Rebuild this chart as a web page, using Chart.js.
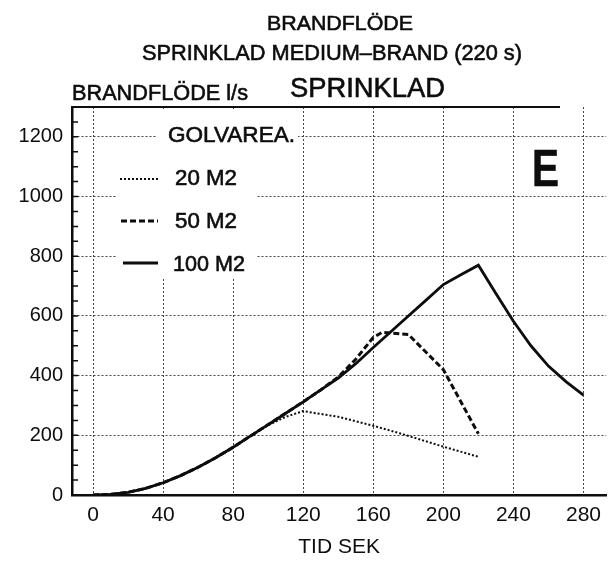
<!DOCTYPE html>
<html>
<head>
<meta charset="utf-8">
<title>Brandflöde sprinklad</title>
<script src="https://cdn.jsdelivr.net/npm/chart.js@4.4.1/dist/chart.umd.min.js"></script>
<style>
  html, body { margin: 0; padding: 0; background: #fff; }
  #wrap { position: relative; width: 609px; height: 561px; }
</style>
</head>
<body>
<div id="wrap"><canvas id="chart"></canvas></div>
<script>
const FONT = "'Liberation Sans', Arial, Helvetica, sans-serif";
const INK = "#0d0d0d";

// tid (s) och brandflöde (l/s) för varje golvarea
const tid20 = [0, 10, 20, 30, 40, 50, 60, 70, 80, 90, 100, 110, 120, 140, 160, 175, 200, 220];
const flode20 = [0, 2, 9, 22, 41, 65, 93, 125, 160, 198, 234, 262, 281, 262, 232, 207, 162, 128];

const tid50 = [0, 10, 20, 30, 40, 50, 60, 70, 80, 90, 100, 110, 120, 130, 140, 150, 160, 165, 180, 200, 220];
const flode50 = [0, 2, 9, 22, 41, 65, 93, 125, 160, 198, 236, 274, 312, 352, 395, 455, 528, 545, 538, 420, 205];

const tid100 = [0, 10, 20, 30, 40, 50, 60, 70, 80, 90, 100, 110, 120, 130, 140, 150, 160, 170, 180, 190, 200, 210, 220, 230, 240, 250, 260, 270, 280];
const flode100 = [0, 2, 9, 22, 41, 65, 93, 125, 160, 198, 236, 274, 312, 352, 392, 440, 494, 547, 600, 652, 705, 738, 770, 675, 582, 500, 432, 380, 335];

const serieNamn = ["20 M2", "50 M2", "100 M2"];
const xTickSteg = 40;
const yTickSteg = 200;
const yMinorSteg = 50;

const toPoints = (xs, ys) => xs.map((x, i) => ({ x: x, y: ys[i] }));

// text squeezed/stretched to the width it has in the scan
function fitText(ctx, text, x, y, size, width, align, weight) {
  ctx.save();
  ctx.font = (weight || "normal") + " " + size + "px " + FONT;
  const w = ctx.measureText(text).width;
  const sx = width ? width / w : 1;
  const left = align === "center" ? x - (w * sx) / 2 : x;
  ctx.translate(left, y);
  ctx.scale(sx, 1);
  ctx.textAlign = "left";
  ctx.textBaseline = "alphabetic";
  ctx.fillStyle = INK;
  ctx.strokeStyle = INK;
  ctx.lineWidth = 0.6;
  ctx.fillText(text, 0, 0);
  ctx.strokeText(text, 0, 0);
  ctx.restore();
}

const decorPlugin = {
  id: "decor",
  beforeDatasetsDraw(chart) {
    // white patch behind the legend, hides grid lines there
    const ctx = chart.ctx;
    ctx.save();
    ctx.fillStyle = "#fff";
    ctx.fillRect(157, 109, 141, 41);
    ctx.fillRect(117, 150, 140, 127);
    ctx.restore();
  },
  afterDraw(chart) {
    const ctx = chart.ctx;
    const area = chart.chartArea;
    const yScale = chart.scales.y;

    // headings
    fitText(ctx, "BRANDFLÖDE", 340, 30, 21, 146, "center");
    fitText(ctx, "SPRINKLAD MEDIUM–BRAND (220 s)", 332, 60, 22, 380, "center");
    fitText(ctx, "BRANDFLÖDE l/s", 72, 100, 22, 176, "left");
    fitText(ctx, "SPRINKLAD", 290, 97, 27, 155, "left");
    fitText(ctx, "E", 532, 186, 51, 27, "left", "bold");

    // line over the plot
    ctx.save();
    ctx.strokeStyle = INK;
    ctx.lineWidth = 2;
    ctx.beginPath();
    ctx.moveTo(area.left, area.top);
    ctx.lineTo(560, area.top);
    ctx.stroke();

    // small inward ticks every 50 l/s
    ctx.lineWidth = 1.5;
    ctx.beginPath();
    for (let v = yScale.min; v <= yScale.max; v += yMinorSteg) {
      const py = yScale.getPixelForValue(v);
      ctx.moveTo(area.left, py);
      ctx.lineTo(area.left + 6, py);
    }
    ctx.stroke();
    ctx.restore();

    // legend
    fitText(ctx, "GOLVAREA.", 168, 142, 22, 127, "left");
    const rows = [
      { line: [120, 158, 179], text: [175, 185, 62] },
      { line: [121, 158, 221], text: [175, 228, 62] },
      { line: [123, 158, 263], text: [173, 271, 72] }
    ];
    chart.data.datasets.forEach((ds, i) => {
      const r = rows[i];
      ctx.save();
      ctx.strokeStyle = ds.borderColor;
      ctx.lineWidth = ds.borderWidth;
      ctx.setLineDash(ds.borderDash || []);
      ctx.beginPath();
      ctx.moveTo(r.line[0], r.line[2]);
      ctx.lineTo(r.line[1], r.line[2]);
      ctx.stroke();
      ctx.restore();
      fitText(ctx, ds.label, r.text[0], r.text[1], 22, r.text[2], "left");
    });
  }
};

new Chart(document.getElementById("chart"), {
  type: "line",
  data: {
    datasets: [
      {
        label: serieNamn[0],
        data: toPoints(tid20, flode20),
        borderColor: INK,
        borderWidth: 2,
        borderDash: [2, 2],
        pointRadius: 0,
        tension: 0
      },
      {
        label: serieNamn[1],
        data: toPoints(tid50, flode50),
        borderColor: INK,
        borderWidth: 3,
        borderDash: [6, 3],
        pointRadius: 0,
        tension: 0
      },
      {
        label: serieNamn[2],
        data: toPoints(tid100, flode100),
        borderColor: INK,
        borderWidth: 2.8,
        pointRadius: 0,
        tension: 0
      }
    ]
  },
  options: {
    responsive: true,
    maintainAspectRatio: false,
    animation: false,
    layout: { padding: { top: 107, right: 0, bottom: 0, left: 0 } },
    plugins: {
      legend: { display: false },
      tooltip: { enabled: false }
    },
    scales: {
      x: {
        type: "linear",
        min: -12,
        max: 293,
        afterFit: (s) => { s.height = 66; },
        ticks: {
          stepSize: xTickSteg,
          includeBounds: false,
          padding: 8,
          color: INK,
          font: { family: FONT, size: 21 },
          callback: (v) => String(v)
        },
        grid: { color: "#444", lineWidth: 1, drawTicks: false },
        border: { color: INK, width: 2.5, dash: [2, 2] },
        title: {
          display: true,
          text: "TID SEK",
          color: INK,
          font: { family: FONT, size: 21 },
          padding: { top: 0, bottom: 1 }
        }
      },
      y: {
        min: 0,
        max: 1300,
        afterFit: (s) => { s.width = 72; },
        ticks: {
          stepSize: yTickSteg,
          includeBounds: false,
          padding: 9,
          color: INK,
          font: { family: FONT, size: 20 },
          callback: (v) => String(v)
        },
        grid: { color: "#444", lineWidth: 1, drawTicks: false },
        border: { color: INK, width: 2.5, dash: [2, 2] }
      }
    }
  },
  plugins: [decorPlugin]
});
</script>
</body>
</html>
